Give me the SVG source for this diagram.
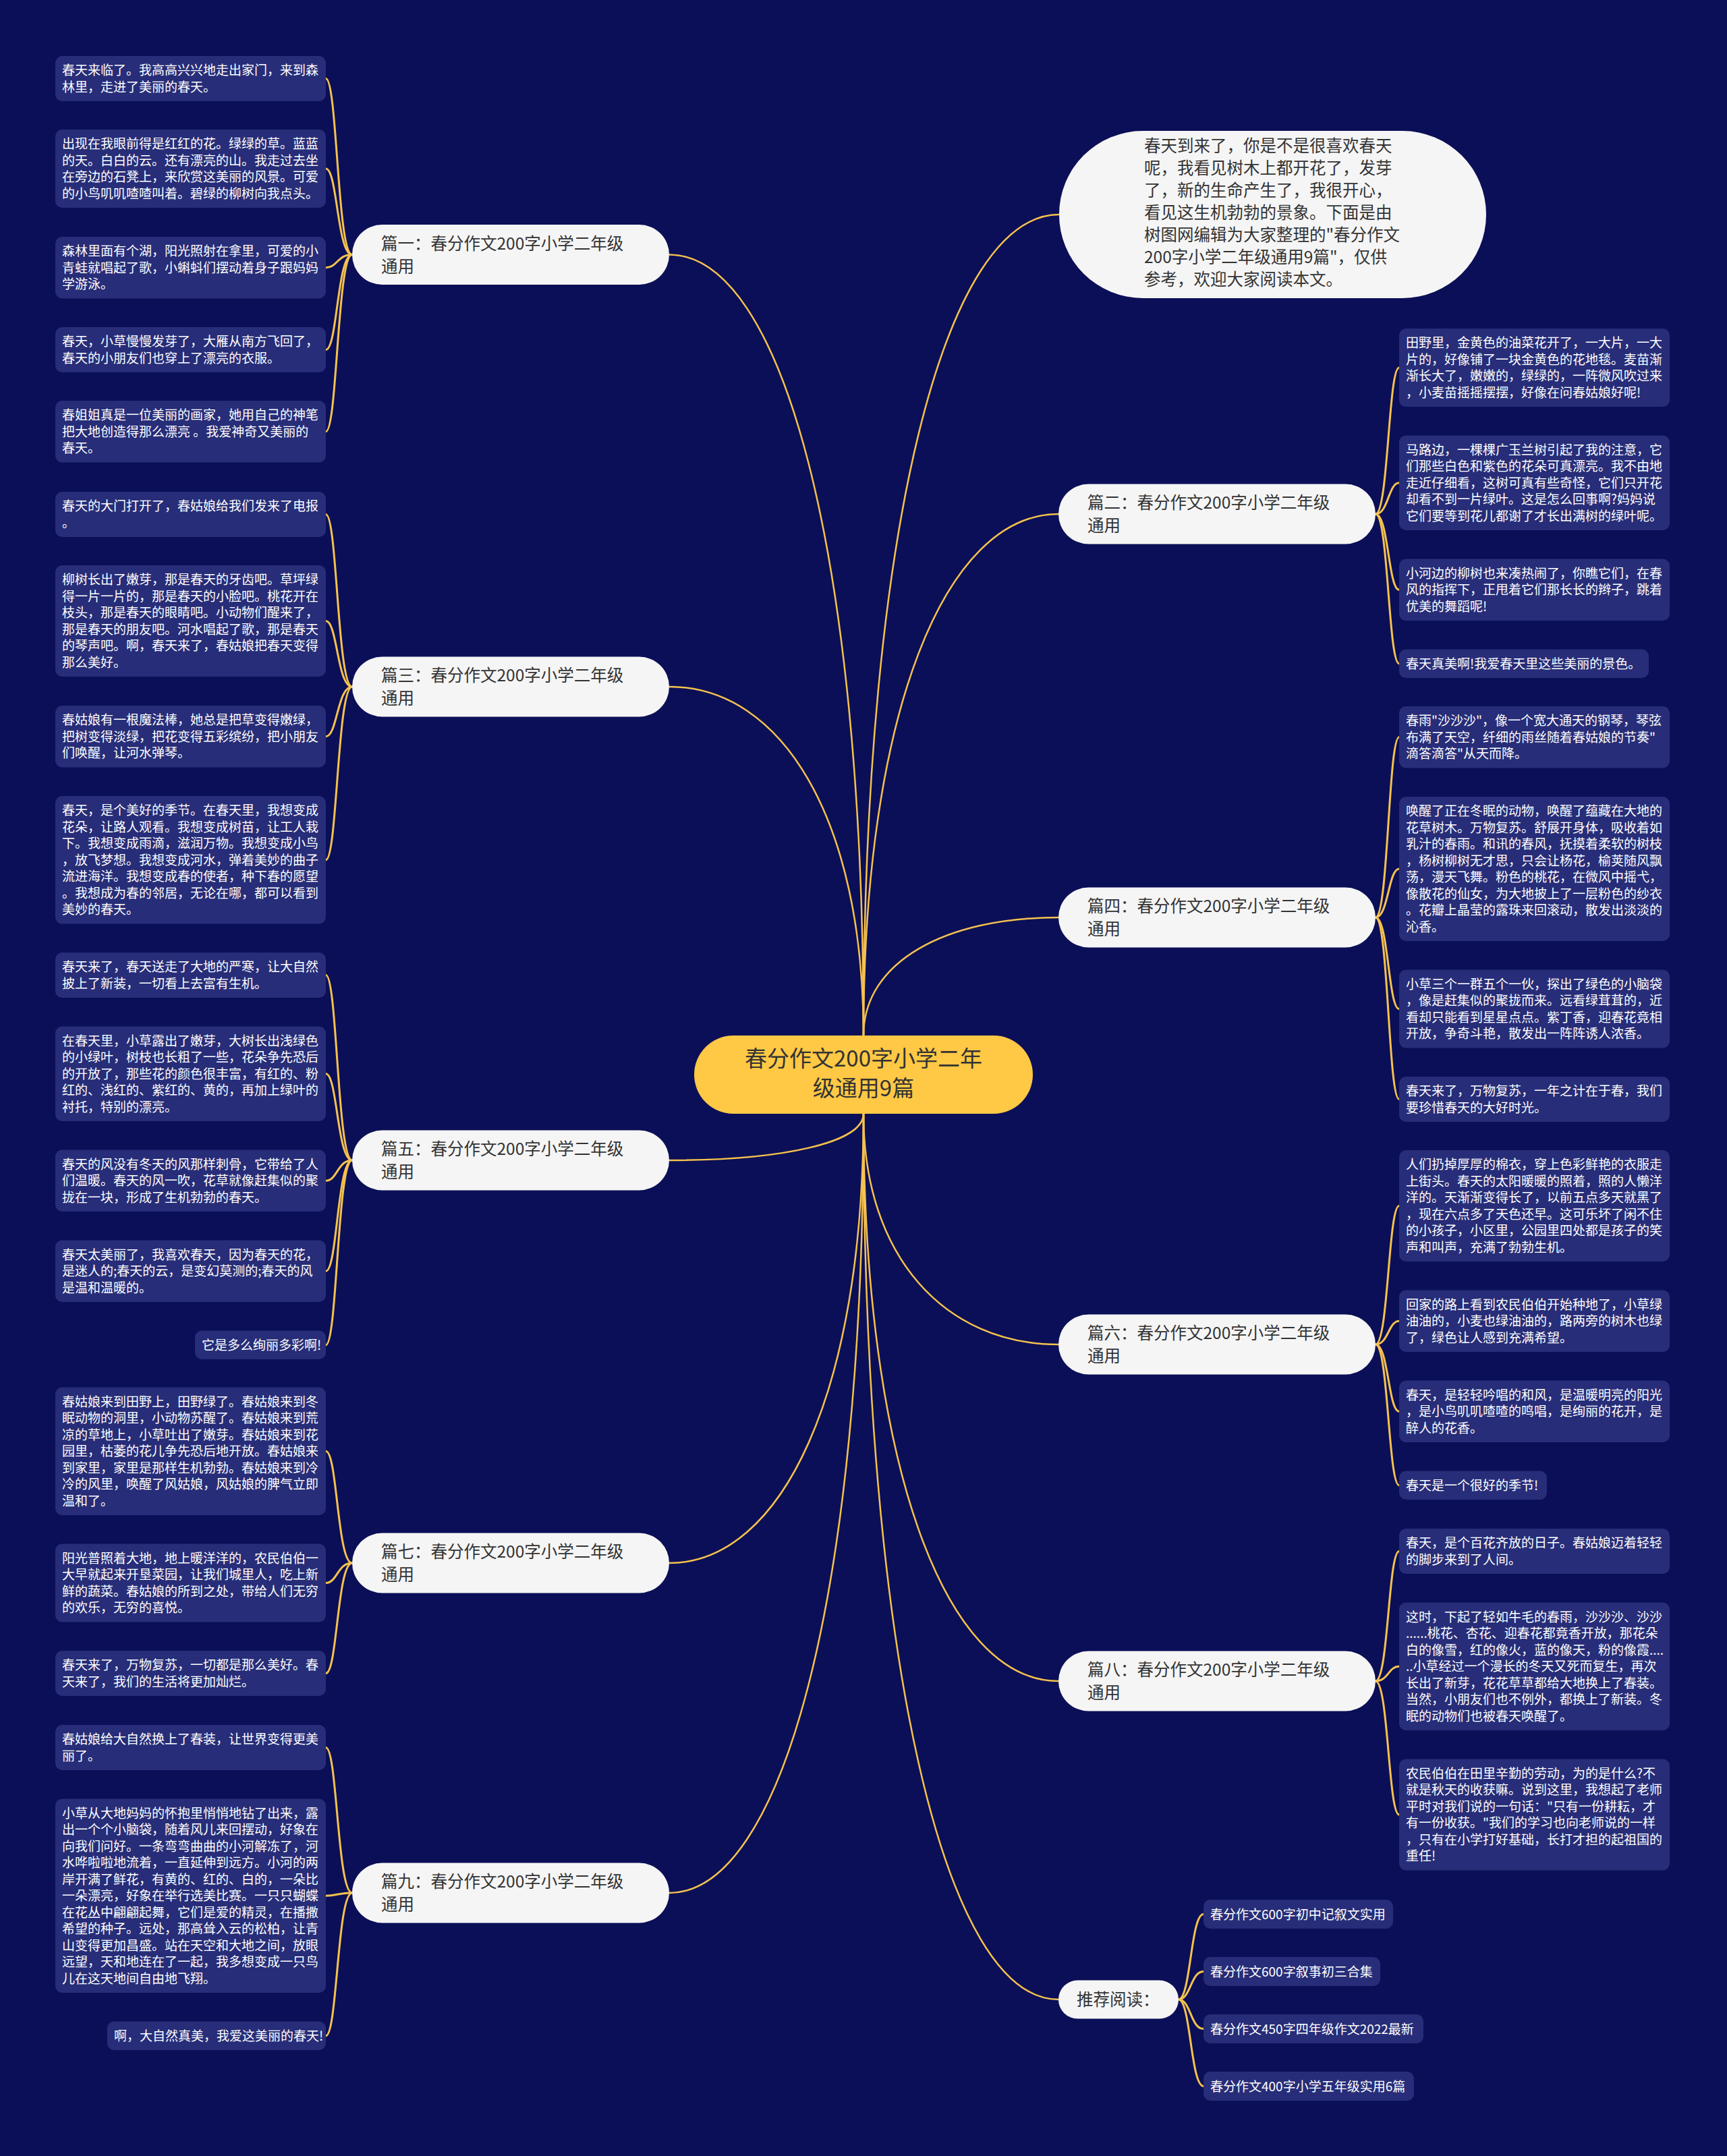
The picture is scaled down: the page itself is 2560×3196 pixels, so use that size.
<svg xmlns="http://www.w3.org/2000/svg" width="2560" height="3196" viewBox="0 0 2560 3196">
<style>
.bg{fill:#0b0f57}
.lf{fill:#272d78}
text{font-family:"Noto Sans CJK SC","Noto Sans",sans-serif}
.lt{font-size:19px;fill:#ffffff}
.bn{fill:#f5f5f5}
.bt{font-size:24.5px;fill:#333333}
.cn{fill:#ffc845}
.ct{font-size:33px;fill:#333333}
.ln{fill:none;stroke:#f5c24e;stroke-width:2.5}
.lk{fill:none;stroke:#f5c24e;stroke-width:3}
</style>
<rect class="bg" x="0" y="0" width="2560" height="3196"/>
<g id="connectors">
<path class="ln" d="M1280 1535 C1280 817 1159 377.5 992 377.5"/>
<path class="ln" d="M1280 1535 C1280 1214.5 1159 1018 992 1018"/>
<path class="ln" d="M1280 1651 C1280 1694 1159 1720 992 1720"/>
<path class="ln" d="M1280 1651 C1280 2064 1159 2317 992 2317"/>
<path class="ln" d="M1280 1651 C1280 2367 1159 2806 992 2806"/>
<path class="ln" d="M1280 1535 C1280 780 1401 318 1570 318"/>
<path class="ln" d="M1280 1535 C1280 1056 1401 762 1569 762"/>
<path class="ln" d="M1280 1535 C1280 1426 1401 1360 1569 1360"/>
<path class="ln" d="M1280 1651 C1280 1863 1401 1993 1569 1993"/>
<path class="ln" d="M1280 1651 C1280 2172 1401 2492 1569 2492"/>
<path class="ln" d="M1280 1651 C1280 2465 1401 2964 1569 2964"/>
<path class="lk" d="M522 377.5 C500 377.5 500 116.5 483 116.5"/>
<path class="lk" d="M522 377.5 C500 377.5 500 250 483 250"/>
<path class="lk" d="M522 377.5 C500 377.5 500 396.75 483 396.75"/>
<path class="lk" d="M522 377.5 C500 377.5 500 518.5 483 518.5"/>
<path class="lk" d="M522 377.5 C500 377.5 500 639.75 483 639.75"/>
<path class="lk" d="M522 1018 C500 1018 500 762.5 483 762.5"/>
<path class="lk" d="M522 1018 C500 1018 500 920.5 483 920.5"/>
<path class="lk" d="M522 1018 C500 1018 500 1091.75 483 1091.75"/>
<path class="lk" d="M522 1018 C500 1018 500 1274.75 483 1274.75"/>
<path class="lk" d="M522 1720 C500 1720 500 1445.5 483 1445.5"/>
<path class="lk" d="M522 1720 C500 1720 500 1591.75 483 1591.75"/>
<path class="lk" d="M522 1720 C500 1720 500 1750.25 483 1750.25"/>
<path class="lk" d="M522 1720 C500 1720 500 1884.25 483 1884.25"/>
<path class="lk" d="M522 1720 C500 1720 500 1993.75 483 1993.75"/>
<path class="lk" d="M522 2317 C500 2317 500 2151.25 483 2151.25"/>
<path class="lk" d="M522 2317 C500 2317 500 2346.5 483 2346.5"/>
<path class="lk" d="M522 2317 C500 2317 500 2480.5 483 2480.5"/>
<path class="lk" d="M522 2806 C500 2806 500 2590.5 483 2590.5"/>
<path class="lk" d="M522 2806 C500 2806 500 2810.25 483 2810.25"/>
<path class="lk" d="M522 2806 C500 2806 500 3017.75 483 3017.75"/>
<path class="lk" d="M2039 762 C2058 762 2058 545 2074 545"/>
<path class="lk" d="M2039 762 C2058 762 2058 715.75 2074 715.75"/>
<path class="lk" d="M2039 762 C2058 762 2058 874.25 2074 874.25"/>
<path class="lk" d="M2039 762 C2058 762 2058 983.75 2074 983.75"/>
<path class="lk" d="M2039 1360 C2058 1360 2058 1092.75 2074 1092.75"/>
<path class="lk" d="M2039 1360 C2058 1360 2058 1288 2074 1288"/>
<path class="lk" d="M2039 1360 C2058 1360 2058 1495.5 2074 1495.5"/>
<path class="lk" d="M2039 1360 C2058 1360 2058 1629.5 2074 1629.5"/>
<path class="lk" d="M2039 1993 C2058 1993 2058 1787.5 2074 1787.5"/>
<path class="lk" d="M2039 1993 C2058 1993 2058 1958.25 2074 1958.25"/>
<path class="lk" d="M2039 1993 C2058 1993 2058 2092.25 2074 2092.25"/>
<path class="lk" d="M2039 1993 C2058 1993 2058 2201.75 2074 2201.75"/>
<path class="lk" d="M2039 2492 C2058 2492 2058 2299.5 2074 2299.5"/>
<path class="lk" d="M2039 2492 C2058 2492 2058 2470.25 2074 2470.25"/>
<path class="lk" d="M2039 2492 C2058 2492 2058 2690 2074 2690"/>
<path class="lk" d="M1747 2964 C1765 2964 1765 2837.5 1784 2837.5"/>
<path class="lk" d="M1747 2964 C1765 2964 1765 2922.5 1784 2922.5"/>
<path class="lk" d="M1747 2964 C1765 2964 1765 3007.5 1784 3007.5"/>
<path class="lk" d="M1747 2964 C1765 2964 1765 3092.5 1784 3092.5"/>
</g>
<g id="center">
<rect class="cn" x="1029" y="1535" width="502" height="116" rx="58"/>
<text class="ct" x="1280" y="1580.5" text-anchor="middle">春分作文200字小学二年</text>
<text class="ct" x="1280" y="1625" text-anchor="middle">级通用9篇</text>
</g>
<g id="intro">
<rect class="bn" x="1570" y="194" width="633" height="248" rx="124"/>
<text class="bt" x="1696"><tspan x="1696" y="225">春天到来了，你是不是很喜欢春天</tspan><tspan x="1696" y="258">呢，我看见树木上都开花了，发芽</tspan><tspan x="1696" y="291">了，新的生命产生了，我很开心，</tspan><tspan x="1696" y="324">看见这生机勃勃的景象。下面是由</tspan><tspan x="1696" y="357">树图网编辑为大家整理的"春分作文</tspan><tspan x="1696" y="390">200字小学二年级通用9篇"，仅供</tspan><tspan x="1696" y="423">参考，欢迎大家阅读本文。</tspan></text>
</g>
<g id="b1">
<rect class="bn" x="522" y="333" width="470" height="89" rx="44.5"/>
<text class="bt"><tspan x="565" y="369.5">篇一：春分作文200字小学二年级</tspan><tspan x="565" y="403.5">通用</tspan></text>
</g>
<g id="b3">
<rect class="bn" x="522" y="973.5" width="470" height="89" rx="44.5"/>
<text class="bt"><tspan x="565" y="1010">篇三：春分作文200字小学二年级</tspan><tspan x="565" y="1044">通用</tspan></text>
</g>
<g id="b5">
<rect class="bn" x="522" y="1675.5" width="470" height="89" rx="44.5"/>
<text class="bt"><tspan x="565" y="1712">篇五：春分作文200字小学二年级</tspan><tspan x="565" y="1746">通用</tspan></text>
</g>
<g id="b7">
<rect class="bn" x="522" y="2272.5" width="470" height="89" rx="44.5"/>
<text class="bt"><tspan x="565" y="2309">篇七：春分作文200字小学二年级</tspan><tspan x="565" y="2343">通用</tspan></text>
</g>
<g id="b9">
<rect class="bn" x="522" y="2761.5" width="470" height="89" rx="44.5"/>
<text class="bt"><tspan x="565" y="2798">篇九：春分作文200字小学二年级</tspan><tspan x="565" y="2832">通用</tspan></text>
</g>
<g id="b2">
<rect class="bn" x="1569" y="717.5" width="470" height="89" rx="44.5"/>
<text class="bt"><tspan x="1612" y="754">篇二：春分作文200字小学二年级</tspan><tspan x="1612" y="788">通用</tspan></text>
</g>
<g id="b4">
<rect class="bn" x="1569" y="1315.5" width="470" height="89" rx="44.5"/>
<text class="bt"><tspan x="1612" y="1352">篇四：春分作文200字小学二年级</tspan><tspan x="1612" y="1386">通用</tspan></text>
</g>
<g id="b6">
<rect class="bn" x="1569" y="1948.5" width="470" height="89" rx="44.5"/>
<text class="bt"><tspan x="1612" y="1985">篇六：春分作文200字小学二年级</tspan><tspan x="1612" y="2019">通用</tspan></text>
</g>
<g id="b8">
<rect class="bn" x="1569" y="2447.5" width="470" height="89" rx="44.5"/>
<text class="bt"><tspan x="1612" y="2484">篇八：春分作文200字小学二年级</tspan><tspan x="1612" y="2518">通用</tspan></text>
</g>
<g id="rec">
<rect class="bn" x="1569" y="2935.5" width="178" height="57" rx="28.5"/>
<text class="bt" x="1596" y="2973">推荐阅读：</text>
</g>
<g id="l1a"><rect class="lf" x="82" y="83" width="401" height="67" rx="10"/><text class="lt"><tspan x="92" y="111.3">春天来临了。我高高兴兴地走出家门，来到森</tspan><tspan x="92" y="135.8">林里，走进了美丽的春天。</tspan></text></g>
<g id="l1b"><rect class="lf" x="82" y="192" width="401" height="116" rx="10"/><text class="lt"><tspan x="92" y="220.3">出现在我眼前得是红红的花。绿绿的草。蓝蓝</tspan><tspan x="92" y="244.8">的天。白白的云。还有漂亮的山。我走过去坐</tspan><tspan x="92" y="269.3">在旁边的石凳上，来欣赏这美丽的风景。可爱</tspan><tspan x="92" y="293.8">的小鸟叽叽喳喳叫着。碧绿的柳树向我点头。</tspan></text></g>
<g id="l1c"><rect class="lf" x="82" y="351" width="401" height="91.5" rx="10"/><text class="lt"><tspan x="92" y="379.3">森林里面有个湖，阳光照射在拿里，可爱的小</tspan><tspan x="92" y="403.8">青蛙就唱起了歌，小蝌蚪们摆动着身子跟妈妈</tspan><tspan x="92" y="428.3">学游泳。</tspan></text></g>
<g id="l1d"><rect class="lf" x="82" y="485" width="401" height="67" rx="10"/><text class="lt"><tspan x="92" y="513.3">春天，小草慢慢发芽了，大雁从南方飞回了，</tspan><tspan x="92" y="537.8">春天的小朋友们也穿上了漂亮的衣服。</tspan></text></g>
<g id="l1e"><rect class="lf" x="82" y="594" width="401" height="91.5" rx="10"/><text class="lt"><tspan x="92" y="622.3">春姐姐真是一位美丽的画家，她用自己的神笔</tspan><tspan x="92" y="646.8">把大地创造得那么漂亮 。我爱神奇又美丽的</tspan><tspan x="92" y="671.3">春天。</tspan></text></g>
<g id="l3a"><rect class="lf" x="82" y="729" width="401" height="67" rx="10"/><text class="lt"><tspan x="92" y="757.3">春天的大门打开了，春姑娘给我们发来了电报</tspan><tspan x="92" y="781.8">。</tspan></text></g>
<g id="l3b"><rect class="lf" x="82" y="838" width="401" height="165" rx="10"/><text class="lt"><tspan x="92" y="866.3">柳树长出了嫩芽，那是春天的牙齿吧。草坪绿</tspan><tspan x="92" y="890.8">得一片一片的，那是春天的小脸吧。桃花开在</tspan><tspan x="92" y="915.3">枝头，那是春天的眼睛吧。小动物们醒来了，</tspan><tspan x="92" y="939.8">那是春天的朋友吧。河水唱起了歌，那是春天</tspan><tspan x="92" y="964.3">的琴声吧。啊，春天来了，春姑娘把春天变得</tspan><tspan x="92" y="988.8">那么美好。</tspan></text></g>
<g id="l3c"><rect class="lf" x="82" y="1046" width="401" height="91.5" rx="10"/><text class="lt"><tspan x="92" y="1074.3">春姑娘有一根魔法棒，她总是把草变得嫩绿，</tspan><tspan x="92" y="1098.8">把树变得淡绿，把花变得五彩缤纷，把小朋友</tspan><tspan x="92" y="1123.3">们唤醒，让河水弹琴。</tspan></text></g>
<g id="l3d"><rect class="lf" x="82" y="1180" width="401" height="189.5" rx="10"/><text class="lt"><tspan x="92" y="1208.3">春天，是个美好的季节。在春天里，我想变成</tspan><tspan x="92" y="1232.8">花朵，让路人观看。我想变成树苗，让工人栽</tspan><tspan x="92" y="1257.3">下。我想变成雨滴，滋润万物。我想变成小鸟</tspan><tspan x="92" y="1281.8">，放飞梦想。我想变成河水，弹着美妙的曲子</tspan><tspan x="92" y="1306.3">流进海洋。我想变成春的使者，种下春的愿望</tspan><tspan x="92" y="1330.8">。我想成为春的邻居，无论在哪，都可以看到</tspan><tspan x="92" y="1355.3">美妙的春天。</tspan></text></g>
<g id="l5a"><rect class="lf" x="82" y="1412" width="401" height="67" rx="10"/><text class="lt"><tspan x="92" y="1440.3">春天来了，春天送走了大地的严寒，让大自然</tspan><tspan x="92" y="1464.8">披上了新装，一切看上去富有生机。</tspan></text></g>
<g id="l5b"><rect class="lf" x="82" y="1521.5" width="401" height="140.5" rx="10"/><text class="lt"><tspan x="92" y="1549.8">在春天里，小草露出了嫩芽，大树长出浅绿色</tspan><tspan x="92" y="1574.3">的小绿叶，树枝也长粗了一些，花朵争先恐后</tspan><tspan x="92" y="1598.8">的开放了，那些花的颜色很丰富，有红的、粉</tspan><tspan x="92" y="1623.3">红的、浅红的、紫红的、黄的，再加上绿叶的</tspan><tspan x="92" y="1647.8">衬托，特别的漂亮。</tspan></text></g>
<g id="l5c"><rect class="lf" x="82" y="1704.5" width="401" height="91.5" rx="10"/><text class="lt"><tspan x="92" y="1732.8">春天的风没有冬天的风那样刺骨，它带给了人</tspan><tspan x="92" y="1757.3">们温暖。春天的风一吹，花草就像赶集似的聚</tspan><tspan x="92" y="1781.8">拢在一块，形成了生机勃勃的春天。</tspan></text></g>
<g id="l5d"><rect class="lf" x="82" y="1838.5" width="401" height="91.5" rx="10"/><text class="lt"><tspan x="92" y="1866.8">春天太美丽了，我喜欢春天，因为春天的花，</tspan><tspan x="92" y="1891.3">是迷人的;春天的云，是变幻莫测的;春天的风</tspan><tspan x="92" y="1915.8">是温和温暖的。</tspan></text></g>
<g id="l5e"><rect class="lf" x="289" y="1972.5" width="194" height="42.5" rx="10"/><text class="lt" x="299" y="2000.8">它是多么绚丽多彩啊!</text></g>
<g id="l7a"><rect class="lf" x="82" y="2056.5" width="401" height="189.5" rx="10"/><text class="lt"><tspan x="92" y="2084.8">春姑娘来到田野上，田野绿了。春姑娘来到冬</tspan><tspan x="92" y="2109.3">眠动物的洞里，小动物苏醒了。春姑娘来到荒</tspan><tspan x="92" y="2133.8">凉的草地上，小草吐出了嫩芽。春姑娘来到花</tspan><tspan x="92" y="2158.3">园里，枯萎的花儿争先恐后地开放。春姑娘来</tspan><tspan x="92" y="2182.8">到家里，家里是那样生机勃勃。春姑娘来到冷</tspan><tspan x="92" y="2207.3">冷的风里，唤醒了风姑娘，风姑娘的脾气立即</tspan><tspan x="92" y="2231.8">温和了。</tspan></text></g>
<g id="l7b"><rect class="lf" x="82" y="2288.5" width="401" height="116" rx="10"/><text class="lt"><tspan x="92" y="2316.8">阳光普照着大地，地上暖洋洋的，农民伯伯一</tspan><tspan x="92" y="2341.3">大早就起来开垦菜园，让我们城里人，吃上新</tspan><tspan x="92" y="2365.8">鲜的蔬菜。春姑娘的所到之处，带给人们无穷</tspan><tspan x="92" y="2390.3">的欢乐，无穷的喜悦。</tspan></text></g>
<g id="l7c"><rect class="lf" x="82" y="2447" width="401" height="67" rx="10"/><text class="lt"><tspan x="92" y="2475.3">春天来了，万物复苏，一切都是那么美好。春</tspan><tspan x="92" y="2499.8">天来了，我们的生活将更加灿烂。</tspan></text></g>
<g id="l9a"><rect class="lf" x="82" y="2557" width="401" height="67" rx="10"/><text class="lt"><tspan x="92" y="2585.3">春姑娘给大自然换上了春装，让世界变得更美</tspan><tspan x="92" y="2609.8">丽了。</tspan></text></g>
<g id="l9b"><rect class="lf" x="82" y="2666.5" width="401" height="287.5" rx="10"/><text class="lt"><tspan x="92" y="2694.8">小草从大地妈妈的怀抱里悄悄地钻了出来，露</tspan><tspan x="92" y="2719.3">出一个个小脑袋，随着风儿来回摆动，好象在</tspan><tspan x="92" y="2743.8">向我们问好。一条弯弯曲曲的小河解冻了，河</tspan><tspan x="92" y="2768.3">水哗啦啦地流着，一直延伸到远方。小河的两</tspan><tspan x="92" y="2792.8">岸开满了鲜花，有黄的、红的、白的，一朵比</tspan><tspan x="92" y="2817.3">一朵漂亮，好象在举行选美比赛。一只只蝴蝶</tspan><tspan x="92" y="2841.8">在花丛中翩翩起舞，它们是爱的精灵，在播撒</tspan><tspan x="92" y="2866.3">希望的种子。远处，那高耸入云的松柏，让青</tspan><tspan x="92" y="2890.8">山变得更加昌盛。站在天空和大地之间，放眼</tspan><tspan x="92" y="2915.3">远望，天和地连在了一起，我多想变成一只鸟</tspan><tspan x="92" y="2939.8">儿在这天地间自由地飞翔。</tspan></text></g>
<g id="l9c"><rect class="lf" x="159" y="2996.5" width="324" height="42.5" rx="10"/><text class="lt" x="169" y="3024.8">啊，大自然真美，我爱这美丽的春天!</text></g>
<g id="r2a"><rect class="lf" x="2074" y="487" width="401" height="116" rx="10"/><text class="lt"><tspan x="2084" y="515.3">田野里，金黄色的油菜花开了，一大片，一大</tspan><tspan x="2084" y="539.8">片的，好像铺了一块金黄色的花地毯。麦苗渐</tspan><tspan x="2084" y="564.3">渐长大了，嫩嫩的，绿绿的，一阵微风吹过来</tspan><tspan x="2084" y="588.8">，小麦苗摇摇摆摆，好像在问春姑娘好呢!</tspan></text></g>
<g id="r2b"><rect class="lf" x="2074" y="645.5" width="401" height="140.5" rx="10"/><text class="lt"><tspan x="2084" y="673.8">马路边，一棵棵广玉兰树引起了我的注意，它</tspan><tspan x="2084" y="698.3">们那些白色和紫色的花朵可真漂亮。我不由地</tspan><tspan x="2084" y="722.8">走近仔细看，这树可真有些奇怪，它们只开花</tspan><tspan x="2084" y="747.3">却看不到一片绿叶。这是怎么回事啊?妈妈说</tspan><tspan x="2084" y="771.8">它们要等到花儿都谢了才长出满树的绿叶呢。</tspan></text></g>
<g id="r2c"><rect class="lf" x="2074" y="828.5" width="401" height="91.5" rx="10"/><text class="lt"><tspan x="2084" y="856.8">小河边的柳树也来凑热闹了，你瞧它们，在春</tspan><tspan x="2084" y="881.3">风的指挥下，正甩着它们那长长的辫子，跳着</tspan><tspan x="2084" y="905.8">优美的舞蹈呢!</tspan></text></g>
<g id="r2d"><rect class="lf" x="2074" y="962.5" width="370" height="42.5" rx="10"/><text class="lt" x="2084" y="990.8">春天真美啊!我爱春天里这些美丽的景色。</text></g>
<g id="r4a"><rect class="lf" x="2074" y="1047" width="401" height="91.5" rx="10"/><text class="lt"><tspan x="2084" y="1075.3">春雨"沙沙沙"，像一个宽大通天的钢琴，琴弦</tspan><tspan x="2084" y="1099.8">布满了天空，纤细的雨丝随着春姑娘的节奏"</tspan><tspan x="2084" y="1124.3">滴答滴答"从天而降。</tspan></text></g>
<g id="r4b"><rect class="lf" x="2074" y="1181" width="401" height="214" rx="10"/><text class="lt"><tspan x="2084" y="1209.3">唤醒了正在冬眠的动物，唤醒了蕴藏在大地的</tspan><tspan x="2084" y="1233.8">花草树木。万物复苏。舒展开身体，吸收着如</tspan><tspan x="2084" y="1258.3">乳汁的春雨。和讯的春风，抚摸着柔软的树枝</tspan><tspan x="2084" y="1282.8">，杨树柳树无才思，只会让杨花，榆荚随风飘</tspan><tspan x="2084" y="1307.3">荡，漫天飞舞。粉色的桃花，在微风中摇弋，</tspan><tspan x="2084" y="1331.8">像散花的仙女，为大地披上了一层粉色的纱衣</tspan><tspan x="2084" y="1356.3">。花瓣上晶莹的露珠来回滚动，散发出淡淡的</tspan><tspan x="2084" y="1380.8">沁香。</tspan></text></g>
<g id="r4c"><rect class="lf" x="2074" y="1437.5" width="401" height="116" rx="10"/><text class="lt"><tspan x="2084" y="1465.8">小草三个一群五个一伙，探出了绿色的小脑袋</tspan><tspan x="2084" y="1490.3">，像是赶集似的聚拢而来。远看绿茸茸的，近</tspan><tspan x="2084" y="1514.8">看却只能看到星星点点。紫丁香，迎春花竟相</tspan><tspan x="2084" y="1539.3">开放，争奇斗艳，散发出一阵阵诱人浓香。</tspan></text></g>
<g id="r4d"><rect class="lf" x="2074" y="1596" width="401" height="67" rx="10"/><text class="lt"><tspan x="2084" y="1624.3">春天来了，万物复苏，一年之计在于春，我们</tspan><tspan x="2084" y="1648.8">要珍惜春天的大好时光。</tspan></text></g>
<g id="r6a"><rect class="lf" x="2074" y="1705" width="401" height="165" rx="10"/><text class="lt"><tspan x="2084" y="1733.3">人们扔掉厚厚的棉衣，穿上色彩鲜艳的衣服走</tspan><tspan x="2084" y="1757.8">上街头。春天的太阳暖暖的照着，照的人懒洋</tspan><tspan x="2084" y="1782.3">洋的。天渐渐变得长了，以前五点多天就黑了</tspan><tspan x="2084" y="1806.8">，现在六点多了天色还早。这可乐坏了闲不住</tspan><tspan x="2084" y="1831.3">的小孩子，小区里，公园里四处都是孩子的笑</tspan><tspan x="2084" y="1855.8">声和叫声，充满了勃勃生机。</tspan></text></g>
<g id="r6b"><rect class="lf" x="2074" y="1912.5" width="401" height="91.5" rx="10"/><text class="lt"><tspan x="2084" y="1940.8">回家的路上看到农民伯伯开始种地了，小草绿</tspan><tspan x="2084" y="1965.3">油油的，小麦也绿油油的，路两旁的树木也绿</tspan><tspan x="2084" y="1989.8">了，绿色让人感到充满希望。</tspan></text></g>
<g id="r6c"><rect class="lf" x="2074" y="2046.5" width="401" height="91.5" rx="10"/><text class="lt"><tspan x="2084" y="2074.8">春天，是轻轻吟唱的和风，是温暖明亮的阳光</tspan><tspan x="2084" y="2099.3">，是小鸟叽叽喳喳的鸣唱，是绚丽的花开，是</tspan><tspan x="2084" y="2123.8">醉人的花香。</tspan></text></g>
<g id="r6d"><rect class="lf" x="2074" y="2180.5" width="219" height="42.5" rx="10"/><text class="lt" x="2084" y="2208.8">春天是一个很好的季节!</text></g>
<g id="r8a"><rect class="lf" x="2074" y="2266" width="401" height="67" rx="10"/><text class="lt"><tspan x="2084" y="2294.3">春天，是个百花齐放的日子。春姑娘迈着轻轻</tspan><tspan x="2084" y="2318.8">的脚步来到了人间。</tspan></text></g>
<g id="r8b"><rect class="lf" x="2074" y="2375.5" width="401" height="189.5" rx="10"/><text class="lt"><tspan x="2084" y="2403.8">这时，下起了轻如牛毛的春雨，沙沙沙、沙沙</tspan><tspan x="2084" y="2428.3">......桃花、杏花、迎春花都竟香开放，那花朵</tspan><tspan x="2084" y="2452.8">白的像雪，红的像火，蓝的像天，粉的像霞....</tspan><tspan x="2084" y="2477.3">..小草经过一个漫长的冬天又死而复生，再次</tspan><tspan x="2084" y="2501.8">长出了新芽，花花草草都给大地换上了春装。</tspan><tspan x="2084" y="2526.3">当然，小朋友们也不例外，都换上了新装。冬</tspan><tspan x="2084" y="2550.8">眠的动物们也被春天唤醒了。</tspan></text></g>
<g id="r8c"><rect class="lf" x="2074" y="2607.5" width="401" height="165" rx="10"/><text class="lt"><tspan x="2084" y="2635.8">农民伯伯在田里辛勤的劳动，为的是什么?不</tspan><tspan x="2084" y="2660.3">就是秋天的收获嘛。说到这里，我想起了老师</tspan><tspan x="2084" y="2684.8">平时对我们说的一句话："只有一份耕耘，才</tspan><tspan x="2084" y="2709.3">有一份收获。"我们的学习也向老师说的一样</tspan><tspan x="2084" y="2733.8">，只有在小学打好基础，长打才担的起祖国的</tspan><tspan x="2084" y="2758.3">重任!</tspan></text></g>
<g id="c1"><rect class="lf" x="1784" y="2816" width="281" height="43" rx="10"/><text class="lt" x="1794" y="2844.5">春分作文600字初中记叙文实用</text></g>
<g id="c2"><rect class="lf" x="1784" y="2901" width="262" height="43" rx="10"/><text class="lt" x="1794" y="2929.5">春分作文600字叙事初三合集</text></g>
<g id="c3"><rect class="lf" x="1784" y="2986" width="326" height="43" rx="10"/><text class="lt" x="1794" y="3014.5">春分作文450字四年级作文2022最新</text></g>
<g id="c4"><rect class="lf" x="1784" y="3071" width="312" height="43" rx="10"/><text class="lt" x="1794" y="3099.5">春分作文400字小学五年级实用6篇</text></g>
</svg>
